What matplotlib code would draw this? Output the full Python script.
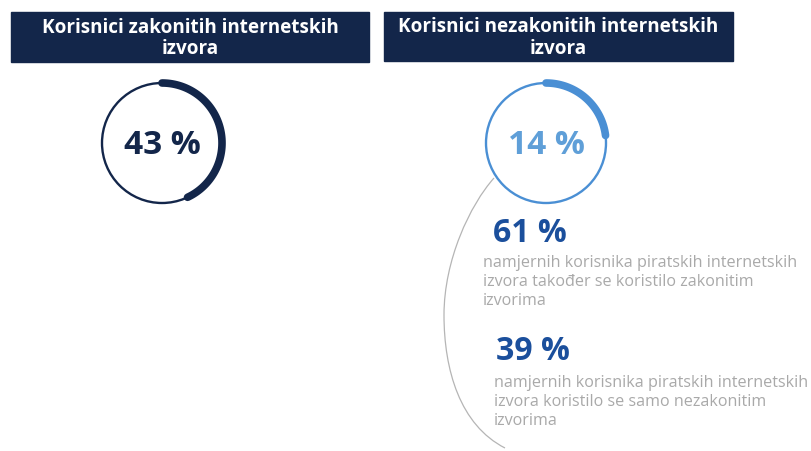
import numpy as np
import matplotlib.pyplot as plt
from matplotlib.path import Path
from matplotlib.patches import PathPatch, Rectangle, Circle

# ==========================================
# Data
# ==========================================
headers = ["Korisnici zakonitih internetskih\nizvora",
           "Korisnici nezakonitih internetskih\nizvora"]
ring_labels = ["43 %", "14 %"]
ring_share = [0.43, 0.23]          # visible arc length as drawn
detail_values = ["61 %", "39 %"]
detail_texts = ["namjernih korisnika piratskih internetskih\nizvora također se koristilo zakonitim\nizvorima",
                "namjernih korisnika piratskih internetskih\nizvora koristilo se samo nezakonitim\nizvorima"]

navy = "#13264a"
ring_colors = [navy, "#4a8fd4"]
label_colors = [navy, "#5f9fd8"]
detail_color = "#1b4f9c"
grey = "#a9a9a9"

plt.rcParams['font.family'] = ['Open Sans', 'DejaVu Sans']

fig = plt.figure(figsize=(8.11, 4.51), dpi=100)
ax = fig.add_axes([0, 0, 1, 1])
ax.set_xlim(0, 811)
ax.set_ylim(451, 0)
ax.axis('off')

# ==========================================
# Header boxes
# ==========================================
boxes = [(11, 12, 358, 50), (384, 12, 349, 49)]
for (x, y, w, h), txt in zip(boxes, headers):
    ax.add_patch(Rectangle((x, y), w, h, color=navy, zorder=1))
    ax.text(x + w / 2, y + h / 2 + 1.5, txt, color='white', fontsize=13.6,
            fontweight='bold', ha='center', va='center', linespacing=1.1, zorder=2)

# ==========================================
# Rings
# ==========================================
centers = [(162, 143), (546, 143)]
r = 60
for (cx, cy), share, col, lab, lcol in zip(centers, ring_share, ring_colors,
                                           ring_labels, label_colors):
    ax.add_patch(Circle((cx, cy), r, fill=False, ec=col, lw=1.7, zorder=2))
    theta = np.radians(np.linspace(90, 90 - 360 * share, 100))
    ax.plot(cx + r * np.cos(theta), cy - r * np.sin(theta), color=col,
            lw=5.5, solid_capstyle='round', zorder=3)
    ax.text(cx, cy + 2, lab, color=lcol, fontsize=24, fontweight='bold',
            ha='center', va='center', zorder=4)

# ==========================================
# Bracket curve and details
# ==========================================
verts = [(494, 178), (470, 205), (444, 260), (444, 315),
         (444, 370), (460, 425), (505, 448)]
codes = [Path.MOVETO] + [Path.CURVE4] * 6
ax.add_patch(PathPatch(Path(verts, codes), fill=False, ec='#b5b5b5', lw=0.9))

value_pos = [(493, 234), (496, 352)]
text_pos = [(483, 255), (494, 375)]
for (vx, vy), (tx, ty), val, txt in zip(value_pos, text_pos, detail_values, detail_texts):
    ax.text(vx, vy, val, color=detail_color, fontsize=23, fontweight='bold',
            ha='left', va='center')
    ax.text(tx, ty, txt, color=grey, fontsize=11.6, ha='left', va='top',
            linespacing=1.24)

plt.savefig('out.png', dpi=100)
